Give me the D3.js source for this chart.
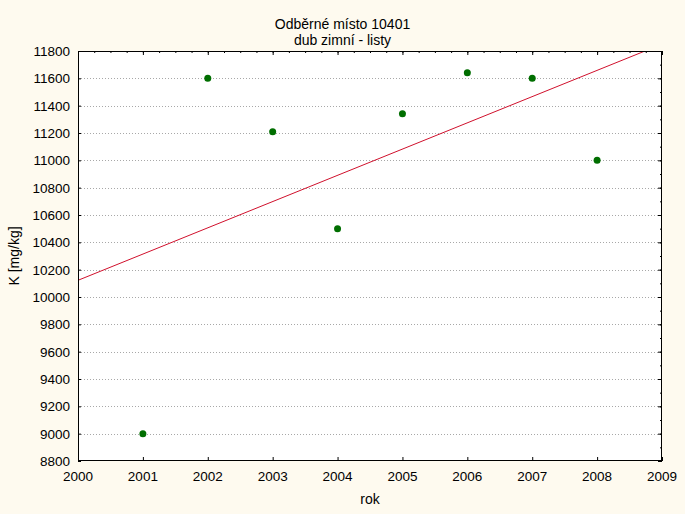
<!DOCTYPE html>
<html><head><meta charset="utf-8">
<script src="https://cdn.jsdelivr.net/npm/d3@7"></script>
<style>
html,body{margin:0;padding:0;background:#FEFAEF;}
svg{display:block;font-family:"Liberation Sans",Arial,sans-serif;}
</style></head>
<body>
<script>
const titleLines = ["Odběrné místo 10401", "dub zimní - listy"];
const xLabel = "rok";
const yLabel = "K [mg/kg]";
const years = [2001, 2002, 2003, 2004, 2005, 2006, 2007, 2008];
const values = [9000, 11600, 11210, 10500, 11340, 11640, 11600, 11000];
const xTicks = [2000, 2001, 2002, 2003, 2004, 2005, 2006, 2007, 2008, 2009];
const yTicks = [8800, 9000, 9200, 9400, 9600, 9800, 10000, 10200, 10400, 10600, 10800, 11000, 11200, 11400, 11600, 11800];

const W = 685, H = 514;
const m = {left: 78, right: 23, top: 51, bottom: 53};
const svg = d3.select("body").append("svg").attr("width", W).attr("height", H);
svg.append("rect").attr("width", W).attr("height", H).attr("fill", "#FEFAEF");

const x = d3.scaleLinear().domain([2000, 2009]).range([m.left, W - m.right]);
const y = d3.scaleLinear().domain([8800, 11800]).range([H - m.bottom, m.top]);

svg.append("rect").attr("x", m.left).attr("y", m.top)
  .attr("width", W - m.left - m.right).attr("height", H - m.top - m.bottom)
  .attr("fill", "#ffffff");

// gridlines
svg.append("g").selectAll("line").data(yTicks.slice(1, -1)).join("line")
  .attr("x1", m.left).attr("x2", W - m.right)
  .attr("y1", d => Math.round(y(d)) + 0.5).attr("y2", d => Math.round(y(d)) + 0.5)
  .attr("stroke", "#a8a8a8").attr("stroke-dasharray", "1,2");

// regression
const mx = d3.mean(years), my = d3.mean(values);
const sxy = d3.sum(years.map((v, i) => (v - mx) * (values[i] - my)));
const sxx = d3.sum(years.map(v => (v - mx) ** 2));
const b = sxy / sxx, a = my - b * mx;
svg.append("clipPath").attr("id", "clip").append("rect")
  .attr("x", m.left).attr("y", m.top).attr("width", W - m.left - m.right).attr("height", H - m.top - m.bottom);
svg.append("line").attr("clip-path", "url(#clip)")
  .attr("x1", x(2000)).attr("y1", y(a + b * 2000))
  .attr("x2", x(2009)).attr("y2", y(a + b * 2009))
  .attr("stroke", "#D0102C").attr("stroke-width", 1);

// axes (ticks inside)
const fmt = d3.format("d");
const minorX = d3.range(2000, 2009.001, 0.25);
const minorY = d3.range(8800, 11801, 100);
function plain(g){ g.select(".domain").remove(); g.selectAll("text").remove(); }
const ax = W - m.right, ay = H - m.bottom;
svg.append("g").attr("transform", `translate(0,${m.top})`).call(d3.axisBottom(x).tickValues(minorX).tickSize(2)).call(plain);
svg.append("g").attr("transform", `translate(0,${m.top})`).call(d3.axisBottom(x).tickValues(xTicks).tickSize(4)).call(plain);
svg.append("g").attr("transform", `translate(0,${ay})`).call(d3.axisTop(x).tickValues(xTicks).tickSize(4)).call(plain);
svg.append("g").attr("transform", `translate(${m.left},0)`).call(d3.axisRight(y).tickValues(yTicks).tickSize(3)).call(plain);
svg.append("g").attr("transform", `translate(${ax},0)`).call(d3.axisLeft(y).tickValues(minorY).tickSize(2)).call(plain);
svg.append("g").attr("transform", `translate(${ax},0)`).call(d3.axisLeft(y).tickValues(yTicks).tickSize(4)).call(plain);

// labels
svg.append("g").selectAll("text").data(xTicks).join("text")
  .attr("x", d => x(d)).attr("y", ay + 20).attr("text-anchor", "middle")
  .attr("font-size", 13.5).attr("fill", "#000").text(fmt);
svg.append("g").selectAll("text").data(yTicks).join("text")
  .attr("x", m.left - 8).attr("y", d => y(d) + 5).attr("text-anchor", "end")
  .attr("font-size", 13.5).attr("fill", "#000").text(fmt);

// frame
svg.append("rect").attr("x", m.left + 0.5).attr("y", m.top + 0.5)
  .attr("width", W - m.left - m.right - 1).attr("height", H - m.top - m.bottom - 1)
  .attr("fill", "none").attr("stroke", "#000");

// points
svg.append("g").selectAll("circle").data(years).join("circle")
  .attr("cx", d => x(d)).attr("cy", (d, i) => y(values[i])).attr("r", 3.5)
  .attr("fill", "#006E00");

// titles
svg.append("g").selectAll("text").data(titleLines).join("text")
  .attr("x", W / 2).attr("y", (d, i) => 29 + i * 16).attr("text-anchor", "middle")
  .attr("font-size", 14).attr("fill", "#000").text(d => d);
svg.append("text").attr("x", (m.left + W - m.right) / 2).attr("y", 504)
  .attr("text-anchor", "middle").attr("font-size", 14).text(xLabel);
svg.append("text").attr("transform", `translate(19,${(m.top + ay) / 2}) rotate(-90)`)
  .attr("text-anchor", "middle").attr("font-size", 14).text(yLabel);
</script>
</body></html>
